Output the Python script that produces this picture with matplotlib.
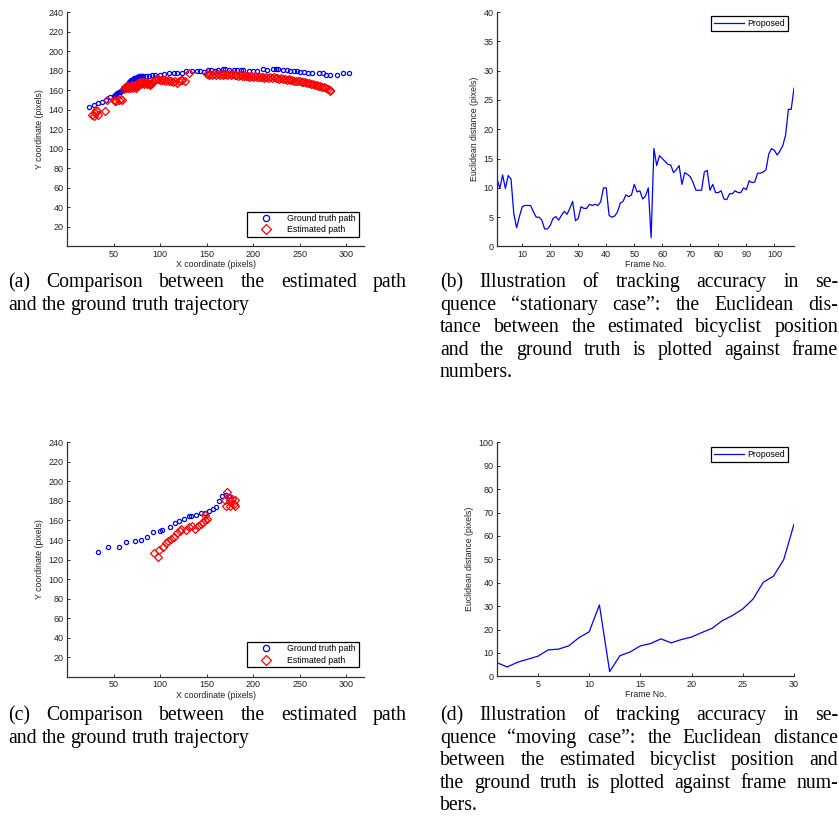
import numpy as np
import matplotlib
matplotlib.use("Agg")
import matplotlib.pyplot as plt

# ---- data: (a) stationary case trajectories
gt_a_x = [24, 29, 33, 37.5, 42, 46, 50, 52, 53, 54, 56, 57, 58.5, 59, 60.5, 61, 62, 63, 64, 65,
          66.5, 67, 68, 69, 70, 71, 72, 73, 74, 75, 76, 77.5, 78, 79, 81, 82, 84.5, 88, 91.5, 95,
          100, 104, 109.5, 115, 118, 123.5, 128, 134.5, 140, 143, 147, 151, 154.5, 159, 162, 167.5,
          170, 174.5, 179, 183, 187, 189.5, 196, 200, 204, 211, 215, 221, 224.5, 227, 231.5, 236,
          240, 243.5, 247, 250, 254.5, 259, 263.5, 271, 274.5, 278, 282, 290, 296.5, 303]
gt_a_y = [143, 144.5, 146.5, 148, 150, 152.5, 154, 155, 156, 157, 158, 158.5, 159.5, 160.5, 162, 162.5,
          163.5, 164.5, 165, 166, 167, 168, 169, 170, 170, 171, 172, 172.5, 172, 173, 173.5, 174, 174,
          174.5, 174.5, 175, 175, 175, 175.5, 175.5,
          176, 176.5, 178, 177.5, 177.5, 178, 179.5, 179.5, 180, 179.5, 179, 180.5, 180.5, 180, 180.5,
          181.5, 181.5, 180.5, 180.5, 180.5, 180.5, 180.5, 180, 180, 180, 182, 180.5, 181.5, 182, 181.5,
          180.5, 180.5, 179.5, 179.5, 179.5, 179, 179, 178, 177.5, 178, 177.5, 176, 176, 176, 177.5, 177.5]

est_a_x = [26.5, 28.5, 30, 31, 32, 33, 40.5, 43, 50, 51.5, 53, 56, 57.5, 59,
           61, 62, 63, 64, 65, 66, 67, 68, 69, 70, 71, 72, 73, 74, 75, 76, 77, 78, 79, 80,
           81, 82, 83, 84, 85, 86, 87, 88, 89, 90, 91, 92, 94, 96, 98, 100, 102, 104, 106, 108,
           110, 112, 114, 116, 118, 120, 122, 124, 127, 131,
           150, 152, 154, 156, 158, 160, 162, 164, 166, 168, 170, 172, 174, 176, 178, 180, 182,
           184, 186, 188, 190, 192, 194, 196, 198, 200, 202, 204, 206, 208, 210, 212, 214, 216,
           218, 220, 222, 224, 226, 228, 230, 232, 234, 236, 238, 240, 242, 244, 246, 248, 250,
           252, 254, 256, 258, 260, 262, 264, 266, 268, 270, 272, 274, 276, 278, 280, 282, 283]
est_a_y = [134.5, 133.5, 137, 140, 138.5, 135, 139, 149.5, 150, 148.5, 149, 150, 151, 149.5,
           161, 163, 162, 164, 162, 163, 164, 162, 163, 165, 162, 164, 163, 162, 164, 166, 168, 167,
           168, 166, 167, 168, 166, 167, 168, 166, 167, 166, 165, 166, 167, 169, 170, 171, 171, 170,
           170.5, 170, 169.5, 170, 169, 169.5, 168.5, 169, 167, 169, 170.5, 170, 169, 178,
           177, 176, 177, 176, 177, 176, 177, 176, 177, 176, 177, 176, 177, 176, 176.5, 175.5, 176,
           175, 175.5, 174.5, 175, 174, 174.5, 173.5, 174, 173.5, 174, 173, 173.5, 173, 173.5, 172.5,
           173, 172.5, 173, 172, 173, 172, 172.5, 171.5, 172, 171, 171.5, 170.5, 171, 170, 170.5,
           169.5, 169.5, 169, 169, 168.5, 168, 168, 167, 167, 166.5, 166, 165.5, 165, 164.5, 164,
           163.5, 163, 162, 161.5, 160.5, 159.5]

# ---- data: (b) stationary case error per frame
err_b = [11.6, 9.9, 12.2, 9.9, 12.1, 11.5, 5.6, 3.2, 5.1, 6.8,
         7.0, 7.0, 7.0, 5.9, 5.0, 5.0, 4.5, 3.0, 3.0, 3.6,
         4.8, 5.1, 4.5, 5.3, 6.0, 5.5, 6.5, 7.7, 4.4, 4.8,
         6.8, 6.5, 6.5, 7.2, 7.0, 7.2, 7.0, 7.6, 10.0, 10.0,
         5.3, 5.0, 5.2, 5.9, 7.4, 7.7, 8.8, 8.5, 8.8, 10.6,
         9.3, 9.5, 8.1, 8.6, 10.0, 1.5, 16.7, 13.8, 15.5, 15.0,
         14.5, 14.0, 13.9, 12.6, 13.1, 13.8, 10.6, 12.6, 12.3, 11.9,
         10.9, 9.6, 9.6, 9.6, 12.7, 13.0, 9.6, 10.6, 9.2, 9.2,
         9.5, 8.1, 8.0, 9.0, 9.0, 9.5, 9.2, 9.2, 10.0, 9.7,
         11.2, 10.9, 11.0, 12.5, 12.5, 12.7, 13.1, 15.8, 16.7, 16.4,
         15.6, 16.3, 17.2, 19.0, 23.4, 23.4, 27.0]
frames_b = np.arange(1, len(err_b) + 1)

# ---- data: (c) moving case trajectories
gt_c_x = [33, 43.5, 55.5, 63, 72.5, 79.5, 85.5, 92.5, 100, 102.5, 110.5, 115.5, 120.5, 126,
          130.5, 133.5, 138.5, 143.5, 148.5, 152.5, 157, 159.5, 163.5, 167, 170.5, 174]
gt_c_y = [128, 133, 133, 137.5, 138.5, 139.5, 143.5, 148.5, 149.5, 150.5, 153, 157, 159, 162,
          164.5, 165, 166, 167.5, 168, 169.5, 171.5, 174, 179.5, 185, 186, 185]
est_c_x = [93.5, 97.5, 98.5, 103, 106, 108.5, 111.5, 115, 118.5, 121, 122.5, 127.5, 131, 134.5,
           138, 140.5, 143.5, 146, 148.5, 150.5, 148.5, 171.5, 170, 170.5, 174, 175.5, 177, 179,
           180, 175.5, 180.5]
est_c_y = [127, 123, 130, 133, 136.5, 138.5, 141, 143.5, 147.5, 149.5, 151, 150.5, 153.5, 154.5,
           151, 154.5, 156.5, 158, 160, 161.5, 165.5, 189.5, 181, 175, 182.5, 179.5, 181.5, 177,
           181, 175, 175]

# ---- data: (d) moving case error per frame
err_d = [5.8, 4.0, 6.0, 7.3, 8.6, 11.3, 11.6, 13.0, 16.5, 19.0,
         30.5, 2.0, 8.8, 10.4, 13.0, 14.0, 16.0, 14.3, 15.7, 16.8,
         18.7, 20.5, 23.8, 26.0, 28.8, 33.0, 40.2, 42.8, 49.9, 65.0]
frames_d = np.arange(1, len(err_d) + 1)

cap_a = ["(a) Comparison between the estimated path",
         "and the ground truth trajectory"]
cap_b = ["(b) Illustration of tracking accuracy in se-",
         "quence \u201cstationary case\u201d:  the Euclidean dis-",
         "tance between the estimated bicyclist position",
         "and the ground truth is plotted against frame",
         "numbers."]
cap_c = ["(c) Comparison between the estimated path",
         "and the ground truth trajectory"]
cap_d = ["(d) Illustration of tracking accuracy in se-",
         "quence \u201cmoving case\u201d: the Euclidean distance",
         "between the estimated bicyclist position and",
         "the ground truth is plotted against frame num-",
         "bers."]

W, H = 839, 830
plt.rcParams['font.family'] = ['Liberation Sans', 'DejaVu Sans']
fig = plt.figure(figsize=(W / 100, H / 100), dpi=100)
fig.patch.set_facecolor('white')

TXT = '#222222'


def make_ax(left, top, right, bottom):
    ax = fig.add_axes([left / W, 1 - bottom / H, (right - left) / W, (bottom - top) / H])
    for s in ['top', 'right']:
        ax.spines[s].set_visible(False)
    for s in ['left', 'bottom']:
        ax.spines[s].set_color('#303030')
        ax.spines[s].set_linewidth(0.9)
    ax.tick_params(direction='in', length=2.5, width=0.7, labelsize=6.5, colors='#303030',
                   labelcolor=TXT, pad=2.5)
    return ax


def path_plot(ax, gx, gy, ex, ey):
    ax.plot(gx, gy, 'o', ls='none', mfc='none', mec='#0000ff', ms=3.0, mew=0.9,
            label='Ground truth path')
    ax.plot(ex, ey, 'D', ls='none', mfc='none', mec='#ff0000', ms=3.6, mew=0.9,
            label='Estimated path')
    ax.set_xlim(0, 319)
    ax.set_ylim(0, 240)
    ax.set_xticks(np.arange(50, 301, 50))
    ax.set_yticks(np.arange(20, 241, 20))
    ax.set_xlabel('X coordinate (pixels)', fontsize=6.3, color=TXT, labelpad=1)
    ax.set_ylabel('Y coordinate (pixels)', fontsize=6.3, color=TXT, labelpad=3)
    leg = ax.legend(loc='lower right', bbox_to_anchor=(0.997, 0.022), fontsize=6.3,
                    fancybox=False, framealpha=1, edgecolor='black', borderpad=0.3,
                    handletextpad=0.7, labelspacing=0.25, markerscale=1.5, handlelength=3.6)
    leg.get_frame().set_linewidth(0.9)


def err_plot(ax, fr, err, ymax, xticks, ystep):
    ax.plot(fr, err, color='#0000ff', lw=0.9, label='Proposed')
    ax.set_xlim(1, fr[-1])
    ax.set_ylim(0, ymax)
    ax.set_xticks(xticks)
    ax.set_yticks(np.arange(0, ymax + 1, ystep))
    ax.set_xlabel('Frame No.', fontsize=6.3, color=TXT, labelpad=1)
    ax.set_ylabel('Euclidean distance (pixels)', fontsize=6.3, color=TXT, labelpad=3)
    leg = ax.legend(loc='upper right', bbox_to_anchor=(0.993, 1.0), fontsize=6.3,
                    fancybox=False, framealpha=1, edgecolor='black', borderpad=0.35,
                    handlelength=3.5, handletextpad=0.3)
    leg.get_frame().set_linewidth(0.9)


ax_a = make_ax(67, 12, 364, 246.5)
path_plot(ax_a, gt_a_x, gt_a_y, est_a_x, est_a_y)
ax_b = make_ax(497, 12, 794, 246.5)
err_plot(ax_b, frames_b, err_b, 40, np.arange(10, 101, 10), 5)
ax_c = make_ax(67, 442.3, 364, 676.8)
path_plot(ax_c, gt_c_x, gt_c_y, est_c_x, est_c_y)
ax_d = make_ax(497, 442.3, 794, 676.3)
err_plot(ax_d, frames_d, err_d, 100, np.arange(5, 31, 5), 10)

# ---- justified captions
renderer = fig.canvas.get_renderer()
CAP_FS = 14.2
CAP_FONT = ['Liberation Serif', 'DejaVu Serif']


def caption(lines, x0, x1, y0, dy=22.6):
    for i, line in enumerate(lines):
        yb = 1 - (y0 + i * dy) / H
        words = line.split()
        objs = [fig.text(0, yb, w, fontsize=CAP_FS, family=CAP_FONT, va='baseline',
                         ha='left', color='black') for w in words]
        widths = [t.get_window_extent(renderer).width for t in objs]
        last = i == len(lines) - 1
        if last or len(words) == 1:
            space = 0.25 * CAP_FS * 100 / 72
        else:
            space = (x1 - x0 - sum(widths)) / (len(words) - 1)
        x = x0
        for t, w in zip(objs, widths):
            t.set_x(x / W)
            x += w + space


caption(cap_a, 8, 407, 287)
caption(cap_b, 440, 838, 287)
caption(cap_c, 8, 407, 720)
caption(cap_d, 440, 838, 720)

fig.savefig('out.png', dpi=100, facecolor='white')
